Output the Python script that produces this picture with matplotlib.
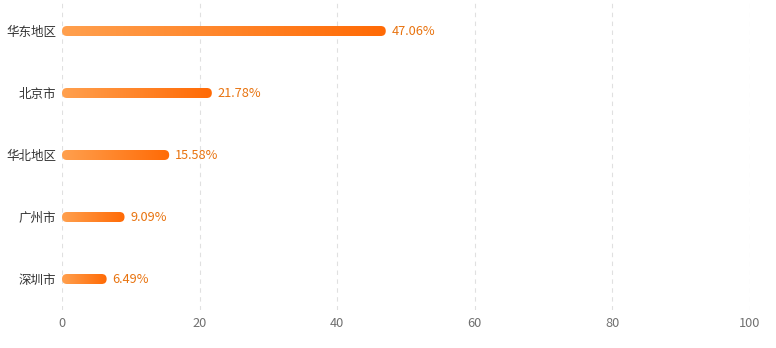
import numpy as np
import matplotlib
matplotlib.use('Agg')
import matplotlib.pyplot as plt
from matplotlib.patches import FancyBboxPatch
from matplotlib.colors import LinearSegmentedColormap

plt.rcParams['font.family'] = ['Noto Sans CJK SC', 'DejaVu Sans']

categories = ['华东地区', '北京市', '华北地区', '广州市', '深圳市']
values = [47.06, 21.78, 15.58, 9.09, 6.49]
xticks = [0, 20, 40, 60, 80, 100]

W, H = 776, 348
fig = plt.figure(figsize=(W / 100, H / 100), dpi=100)
ax = fig.add_axes([62 / W, 1 - 310 / H, 688 / W, 310 / H])
ax.set_xlim(0, 100)
ax.set_ylim(len(categories) - 0.5, -0.5)

cmap = LinearSegmentedColormap.from_list('bar', ['#ffa04e', '#ff6a05'])
grad = np.linspace(0, 1, 256).reshape(1, -1)

px_x = 688 / 100   # pixels per x unit
px_y = 62          # pixels per category
bar_h = 10 / px_y
r = 5 / px_x

for i, (cat, v) in enumerate(zip(categories, values)):
    patch = FancyBboxPatch((0, i - bar_h / 2), v, bar_h,
                           boxstyle='round,pad=0,rounding_size=%f' % r,
                           mutation_aspect=(5 / px_y) / r,
                           facecolor='none', edgecolor='none')
    ax.add_patch(patch)
    im = ax.imshow(grad, cmap=cmap, aspect='auto',
                   extent=(0, v, i + bar_h / 2, i - bar_h / 2), zorder=3)
    im.set_clip_path(patch)
    ax.text(v + 6 / px_x, i + 0.015, '%.2f%%' % v, va='center', ha='left',
            fontsize=9.2, color='#e8730f', zorder=4)

ax.set_xlim(0, 100)
ax.set_ylim(len(categories) - 0.5, -0.5)
ax.set_yticks(range(len(categories)))
ax.set_yticklabels(categories, fontsize=9, color='#333333')
ax.set_xticks(xticks)
ax.set_xticklabels([str(t) for t in xticks], fontsize=9.2, color='#707070')
ax.tick_params(axis='both', length=0)
ax.tick_params(axis='x', pad=5)
ax.tick_params(axis='y', pad=4)
for s in ax.spines.values():
    s.set_visible(False)
ax.grid(axis='x', color='#e0e0e0', linestyle=(0, (4, 4)), linewidth=0.8, zorder=0)
ax.set_axisbelow(True)

fig.savefig('out.png', dpi=100)
